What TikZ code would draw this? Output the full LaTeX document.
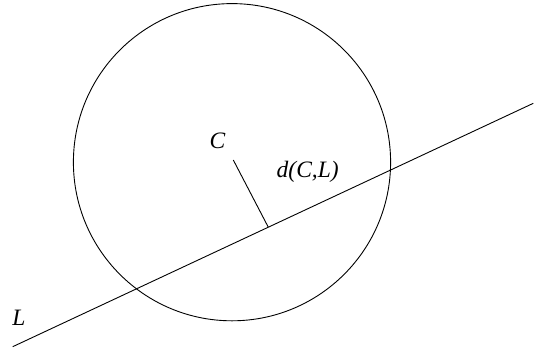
\documentclass[tikz,border=0pt]{standalone}
\usepackage{fontspec}
\setmainfont{Liberation Serif}
\begin{document}
\begin{tikzpicture}[x=1pt,y=-1pt,
  geo/.style={line width=0.9pt,black},
  lbl/.style={inner sep=0pt,font=\fontsize{23.5}{28}\selectfont\itshape}]
\useasboundingbox (0,0) rectangle (535,354);
\coordinate (O) at (232,162.2);
\node[geo,draw,circle,minimum size=317.2pt,inner sep=0pt] (circ) at (O) {};
\coordinate (La) at (12.7,346.7);
\coordinate (Lb) at (533.3,103.3);
\draw[geo] (La) -- (Lb);
\coordinate (S) at (233.3,160);
\coordinate (F) at (268.3,227.2);
\draw[geo] (S) -- (F);
\node[lbl,anchor=base] (lC) at (217.5,148) {C};
\node[lbl,anchor=base west] (ld) at (276.5,177) {d(C,L)};
\node[lbl,anchor=base] (lL) at (19,325) {L};
\end{tikzpicture}
\end{document}
